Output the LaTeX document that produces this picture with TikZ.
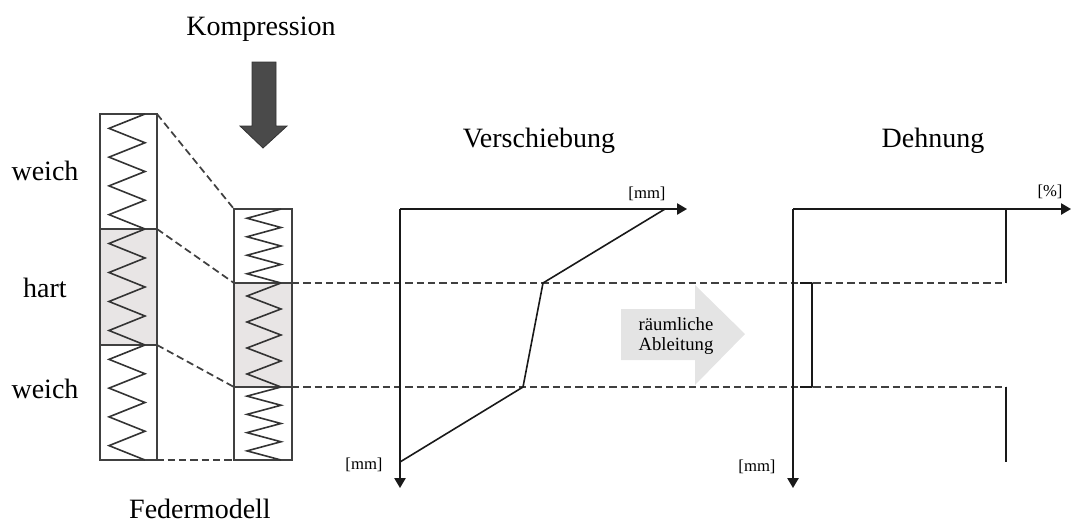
\documentclass[tikz,border=0pt]{standalone}
\usepackage{fontspec}
\setmainfont{Liberation Serif}
\usetikzlibrary{arrows.meta}

% one zig-zag spring section: #1 = left x, #2 = right x, #3 = top y, #4 = bottom y
\newcommand{\springsection}[4]{%
  \draw[spring] (#2,#3)
    \foreach \k in {1,...,7} { -- ({ifthenelse(isodd(\k),#1,#2)}, {#3+(#4-#3)*\k/8}) }
    -- (#2,#4);
}

\definecolor{hardfill}{HTML}{E8E5E5}
\definecolor{arrowdark}{HTML}{4A4A4A}
\definecolor{blockgray}{HTML}{E4E4E4}

\begin{document}
\begin{tikzpicture}[x=0.75pt,y=-0.75pt,
  big/.style={font=\fontsize{21}{24}\selectfont, inner sep=0pt, anchor=base},
  small/.style={font=\fontsize{12.5}{14}\selectfont, inner sep=0pt},
  frame/.style={draw=black!75, line width=1.1pt},
  spring/.style={draw=black!80, line width=1.2pt, line join=miter},
  guide/.style={draw=black!75, line width=1.3pt, dash pattern=on 5.5pt off 3pt},
  axis/.style={draw=black!90, line width=1.2pt, -{Triangle[length=7.5pt,width=8.5pt]}},
  curve/.style={draw=black!90, line width=1.2pt, line join=round}]
\useasboundingbox (0,0) rectangle (1071,526);

% ---------- titles ----------
\node[big] (komp) at (261,35) {Kompression};
\node[big] (verschiebung) at (539,147) {Verschiebung};
\node[big] (dehnung) at (933,147) {Dehnung};
\node[big] (federmodell) at (200,518) {Federmodell};
\node[big] (weichA) at (45,180) {weich};
\node[big] (hart) at (45,297) {hart};
\node[big] (weichB) at (45,398) {weich};

% ---------- compression arrow ----------
\draw[fill=arrowdark, draw=black!80, line width=0.6pt]
  (252,62) -- (276,62) -- (276,126) -- (287,126) -- (263,148) -- (240,126) -- (252,126) -- cycle;

% ---------- uncompressed spring column ----------
\fill[hardfill] (100,229) rectangle (157,345);
\draw[frame] (100,114) rectangle (157,460);
\draw[frame] (100,229) -- (157,229);
\draw[frame] (100,345) -- (157,345);
\springsection{109}{145}{114}{229}
\springsection{109}{145}{229}{345}
\springsection{109}{145}{345}{460}

% ---------- compressed spring column ----------
\fill[hardfill] (234,283) rectangle (292,387);
\draw[frame] (234,209) rectangle (292,460);
\draw[frame] (234,283) -- (292,283);
\draw[frame] (234,387) -- (292,387);
\springsection{247}{281}{209}{283}
\springsection{247}{281}{283}{387}
\springsection{247}{281}{387}{460}

% ---------- guide lines ----------
\coordinate (lA) at (157,114); \coordinate (rA) at (234,209);
\coordinate (lB) at (157,229); \coordinate (rB) at (234,283);
\coordinate (lC) at (157,345); \coordinate (rC) at (234,387);
\coordinate (lD) at (145,460); \coordinate (rD) at (234,460);
\coordinate (hB0) at (292,283); \coordinate (hB1) at (1006,283);
\coordinate (hC0) at (292,387); \coordinate (hC1) at (1006,387);
\draw[guide] (lA) -- (rA);
\draw[guide] (lB) -- (rB);
\draw[guide] (lC) -- (rC);
\draw[guide] (lD) -- (rD);
\draw[guide] (hB0) -- (hB1);
\draw[guide] (hC0) -- (hC1);

% ---------- displacement plot ----------
\coordinate (vO) at (400,209);
\coordinate (vX) at (687,209);
\coordinate (vY) at (400,488);
\draw[axis] (vO) -- (vX);
\draw[axis] (vO) -- (vY);
\coordinate (v0) at (400,462);
\coordinate (v1) at (523,387);
\coordinate (v2) at (543,283);
\coordinate (v3) at (665,209);
\draw[curve] (v0) -- (v1) -- (v2) -- (v3);
\node[small] (vxlabel) at (647,194) {[mm]};
\node[small] (vylabel) at (364,465) {[mm]};

% ---------- spatial derivative arrow ----------
\fill[blockgray] (621,309) -- (695,309) -- (695,285) -- (745,334) -- (695,385) -- (695,360) -- (621,360) -- cycle;
\node[font=\fontsize{14}{15}\selectfont, align=center, inner sep=0pt] (ableitung) at (676,336) {räumliche\\Ableitung};

% ---------- strain plot ----------
\coordinate (dO) at (793,209);
\coordinate (dX) at (1071,209);
\coordinate (dY) at (793,488);
\draw[axis] (dO) -- (dX);
\draw[axis] (dO) -- (dY);
\coordinate (s0) at (1006,209);
\coordinate (s1) at (1006,283);
\coordinate (s2) at (800,283);
\coordinate (s3) at (812,283);
\coordinate (s4) at (812,387);
\coordinate (s5) at (800,387);
\coordinate (s6) at (1006,387);
\coordinate (s7) at (1006,462);
\draw[curve] (s0) -- (s1);
\draw[curve] (s2) -- (s3) -- (s4) -- (s5);
\draw[curve] (s6) -- (s7);
\node[small] (dxlabel) at (1050,192) {[\%]};
\node[small] (dylabel) at (757,467) {[mm]};
\end{tikzpicture}
\end{document}
